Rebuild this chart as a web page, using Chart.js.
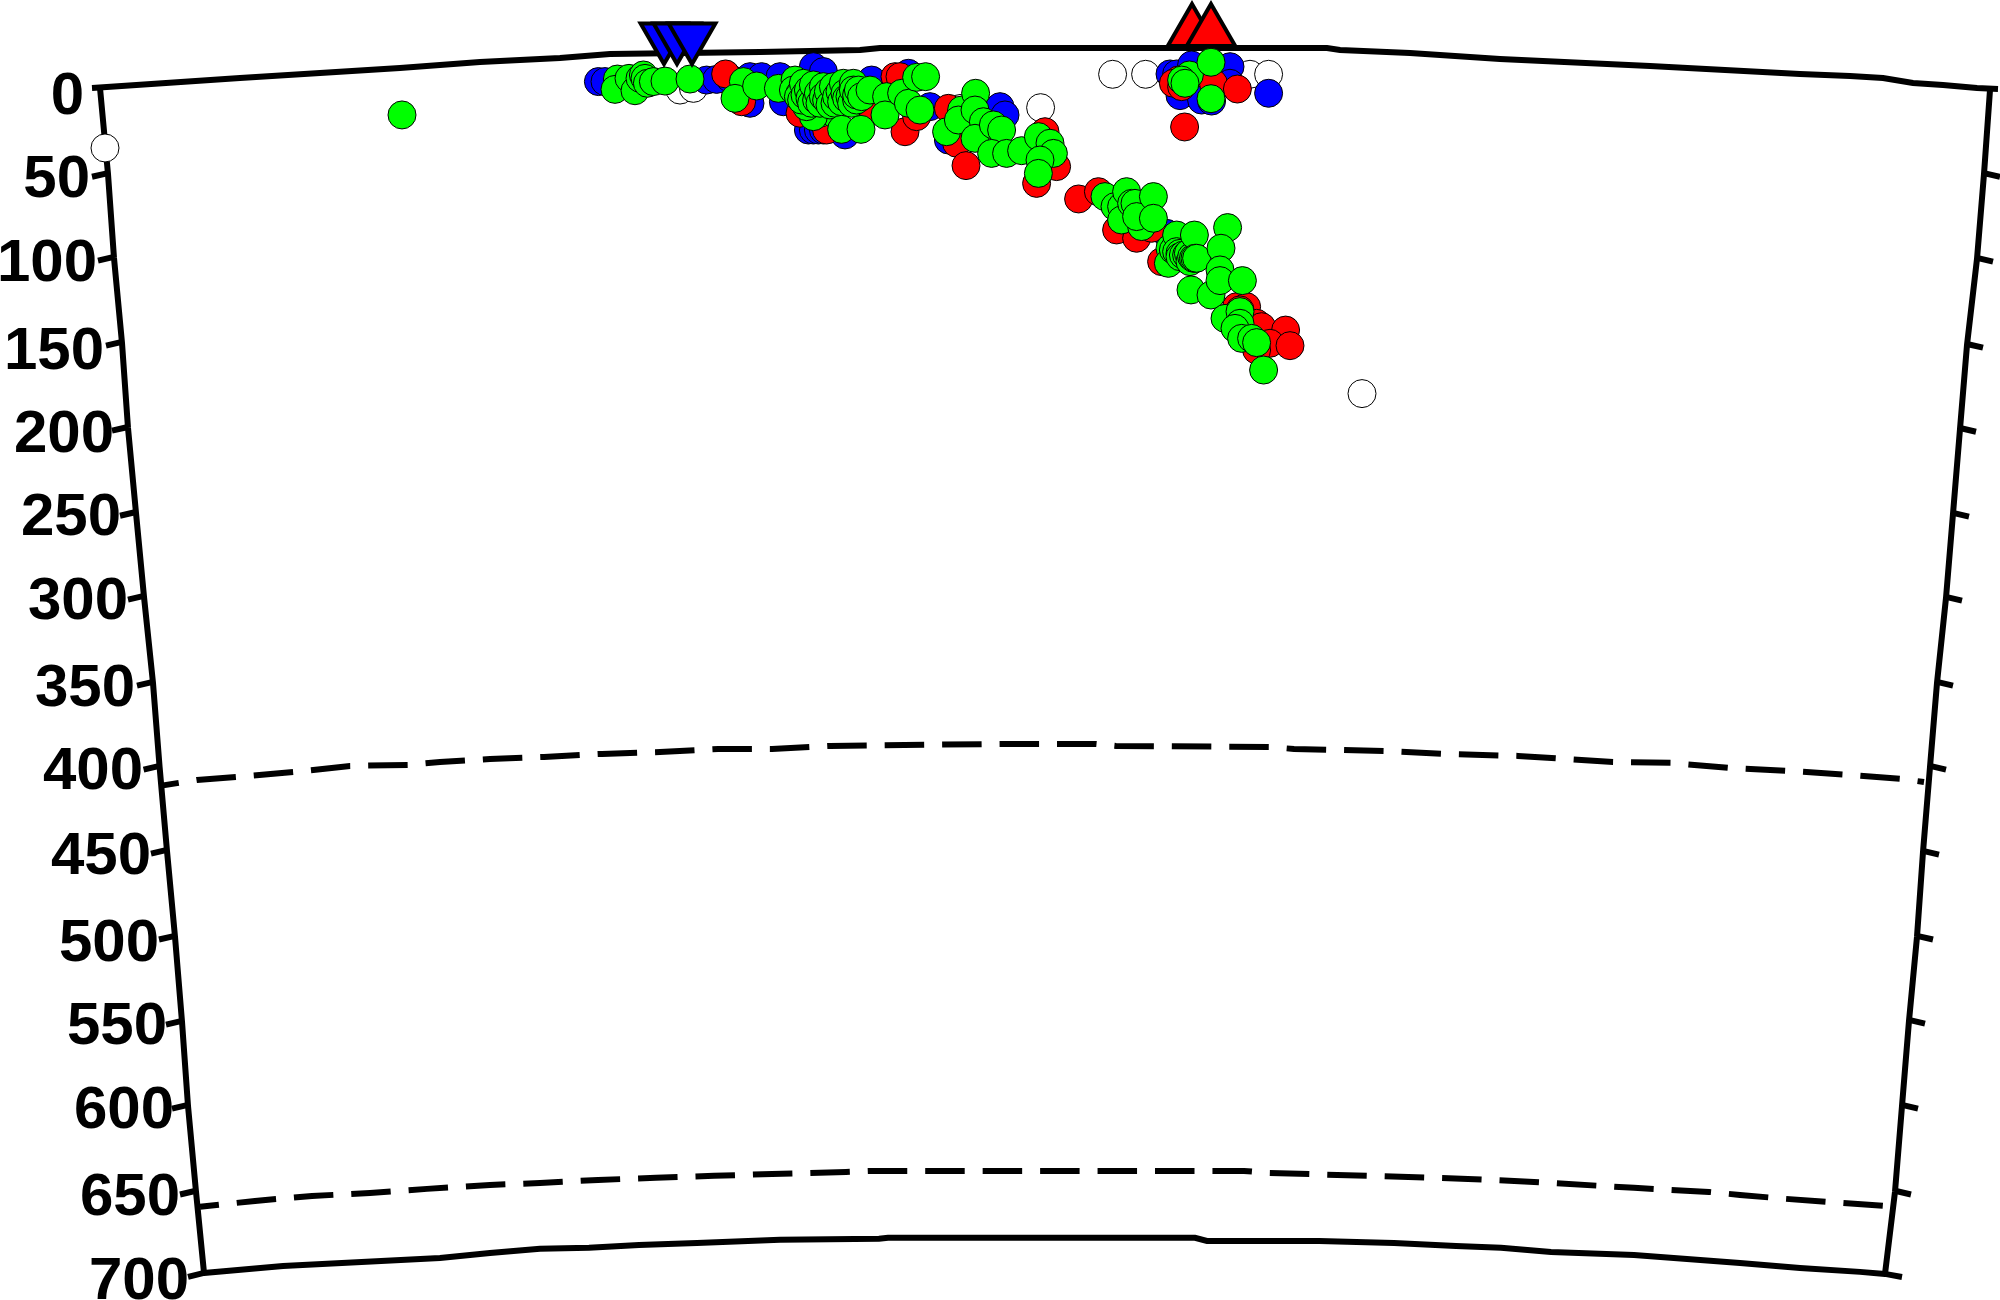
<!DOCTYPE html>
<html>
<head>
    <meta charset="UTF-8">
    <title>Seismicity cross section</title>
    <script src="https://cdn.jsdelivr.net/npm/chart.js"></script>
    <style>
        body {
            background-color: #FFFFFF;
            margin: 0;
            padding: 0;
        }

        canvas {
            display: block;
        }
    </style>
</head>
<body>
<canvas id="section-chart" width="2000" height="1300"></canvas>

<script>
    // Depth axis labels
    const depthLabels = ['0', '50', '100', '150', '200', '250', '300', '350', '400', '450', '500', '550', '600', '650', '700'];
    const labelX = [41, 44, 47.5, 51, 56, 59.5, 63, 66.5, 70.5, 74.5, 78.5, 82.5, 86, 89, 93.5];
    const labelDepth = [3, 52.5, 102.1, 153.5, 202.5, 251.5, 301.6, 353, 402, 452, 503, 552.5, 602.1, 653.5, 703];

    // Section frame: the sides and the earth surface / bottom are curved
    const leftEdgeX = [50, 54, 57, 61, 64, 68, 72, 76.5, 79.8, 83.5, 87.5, 91, 94, 98, 102];
    const leftEdgeDepth = [0.6, 51.4, 100.9, 151.1, 201.3, 251.5, 301, 351.8, 401.4, 451, 501.7, 551.9, 601.5, 652.2, 700];
    const rightEdgeX = [995, 992, 988.5, 983.5, 980, 976.5, 973, 968.5, 965, 961.5, 958.5, 954.5, 951, 947.5, 942.5];
    const rightEdgeDepth = [1.8, 51.4, 101.5, 152.3, 201.9, 252, 301.6, 351.8, 401.4, 451.6, 501.7, 551.3, 601.5, 652.2, 700.7];
    const topEdgeX = [46, 120, 200, 240, 280, 305, 380, 430, 440, 540, 663.5, 670, 705, 750, 825, 900, 925, 941.5, 956.5, 971.5, 988.5, 999];
    const topEdgeDepth = [0.6, -5.3, -11.2, -14.8, -17.1, -19.5, -20.7, -21.8, -23, -23, -23, -21.8, -20, -16.5, -12.4, -7.7, -6.5, -5.3, -2.4, -1.2, 0.6, 1.2];
    const bottomEdgeX = [94, 102, 141.5, 220, 245, 270, 294.5, 319.5, 348.5, 390, 439.5, 444, 597.5, 603.5, 659.5, 697, 728, 750.5, 775.5, 817, 870, 900, 930, 942.5, 951];
    const bottomEdgeDepth = [702.5, 700.1, 696, 691.3, 688.3, 685.9, 685.3, 683.6, 682.4, 680.6, 680, 679.4, 679.4, 681.2, 681.2, 682.4, 684.2, 685.3, 687.7, 689.5, 694.2, 697.2, 699.5, 700.7, 702.5];

    // 410 km and 660 km discontinuities
    const d410X = [80, 98.5, 118.5, 147, 175, 204, 220, 245, 272, 301, 330, 359, 386, 415, 502, 547.5, 558, 634.5, 647, 692.5, 721.5, 759, 806.5, 835.5, 864.5, 895, 925, 951, 962];
    const d410Depth = [412.6, 409.1, 407.3, 404.4, 400.8, 400.2, 398.5, 396.7, 395.5, 393.7, 392.6, 390.8, 390.8, 389, 387.8, 387.8, 389, 389.6, 390.8, 392, 393.7, 394.9, 398.5, 399, 402, 403.8, 406.1, 408.5, 410.3];
    const d660X = [100, 127.5, 156, 185, 213.5, 245, 270, 299, 328, 357, 386, 423, 435.5, 622, 634.5, 684.5, 734, 767, 817, 854.5, 870, 893, 921.5, 941.5];
    const d660Depth = [661.1, 657.6, 654.7, 652.9, 650.5, 648.2, 647, 645.2, 644, 642.8, 641.7, 640.5, 639.9, 639.9, 641.1, 642.8, 644.6, 646.4, 649.9, 652.3, 654.1, 656.4, 658.8, 660.5];

    // Stations on the surface
    const blueStationX = [332, 338.5, 346];
    const blueStationDepth = [-29.5, -29.5, -29.5];
    const redStationX = [596, 605.5];
    const redStationDepth = [-32.5, -32.5];

    // Earthquakes
    const whiteX = [52.5, 340, 346.7, 480, 520.3, 556.3, 572.8, 625, 634.3, 681];
    const whiteDepth = [36, 1.8, 0.8, 12.7, 12.2, -7.5, -7.5, -7.5, -7.5, 181];

    const blueX = [299.2, 302.5, 353.3, 358.3, 365, 375, 380.8, 390, 406.7, 411.7, 435.8, 375, 391.7, 404.2, 406.7, 409.2, 411.7, 422.5, 454.2, 465, 500, 502.5, 474.2, 585, 588.3, 595.8, 615, 615, 590, 600.8, 605.8, 634.3, 583.3];
    const blueDepth = [-3.2, -3.2, -4.1, -4.5, -5.1, -6.1, -6.1, -6.1, -12, -9.1, -4.1, 9.6, 8.7, 25.4, 25.4, 25.4, 25.4, 28.3, -8.1, 11.6, 11.6, 16.5, 31.3, -7.7, -7.7, -13, -12, -2.2, 5.1, 7.7, 8.3, 3.7, 86.4];

    const redX = [362.8, 370.8, 400, 413.3, 433.3, 447.5, 450, 452.5, 458.3, 474.2, 478.3, 483, 522.5, 528.3, 518.3, 589.2, 586.7, 606.7, 618.7, 592.3, 590.8, 539.3, 549.2, 558.3, 568.3, 575.8, 580.8, 618.3, 623.3, 620, 628.3, 630.8, 642.8, 635, 628.3, 645];
    const redDepth = [-7.7, 8.7, 15.5, 25.4, 15.5, -6.1, -6.1, 26.4, 17.5, 12.6, 33.2, 46.4, 26.4, 47, 56.9, -4.1, -2.2, -2.2, 1.2, 23.6, -0.2, 66.1, 61.8, 84.4, 89.3, 83.4, 103.1, 129.7, 129.7, 131.6, 139.5, 141.5, 143.5, 151.3, 155.3, 152.7];

    const greenX = [201, 308.7, 307.5, 314.5, 317.5, 320, 321.7, 322.5, 323.7, 326.7, 332.5, 345, 371.7, 367.5, 378.3, 389.2, 410, 416.7, 406.7, 403.3, 397.5, 396.7, 400, 399.2, 400.8, 401.7, 402.5, 404.2, 405, 405.8, 406.7, 408.3, 409.2, 410, 411.7, 411.7, 413.3, 414.2, 415, 416.7, 417.5, 418.3, 420, 420.8, 421.7, 422.5, 423.3, 425, 425.8, 426.7, 426.7, 428.3, 428.3, 429.2, 430.8, 435, 420.8, 430.5, 443.3, 450.8, 442.5, 454.2, 460, 458.3, 462.8, 473.3, 480.8, 479.2, 487.8, 487.5, 491.7, 487.5, 496.7, 500.8, 495.8, 503.3, 510.8, 519.2, 525, 526.7, 520, 519.2, 594.7, 590.8, 592.5, 605.5, 605.5, 552.5, 557.5, 560.8, 560.8, 570.8, 563.3, 565.8, 567.5, 568.3, 576.7, 576.7, 585, 585, 584.2, 586.7, 588.3, 588.3, 590, 590, 591.7, 593.3, 594.2, 595, 595.8, 596.7, 597.2, 597.5, 598.3, 613.8, 610.5, 595.5, 605.5, 610, 610, 621.2, 612.5, 620, 620, 617.5, 620.8, 625.8, 628.3, 631.8];
    const greenDepth = [16.5, -4.7, 1.4, -5.1, 2.2, -5.1, -7.1, -5.1, -2.2, -3.2, -3.5, -4.7, -3.2, 6.7, -0.6, 0.8, 15.5, 15.5, 17.5, 11.6, -4.1, 1.8, 3.7, 5.7, 7.7, -2.2, 4.7, 1.8, 6.7, 9.6, -1.2, 7.7, 3.7, 9.6, -0.2, 5.7, 7.7, 2.7, 10.6, -0.2, 9.6, 5.7, 2.7, 8.7, -2.2, 3.7, 6.7, 5.7, 9.6, -2.2, 1.8, 7.7, 4.7, 1.8, 5.7, 1.8, 25, 25, 5.7, 3.7, 16.5, 9.6, 13.6, -5.7, -6.1, 26.4, 13.6, 19.5, 3.7, 13.6, 20.5, 30.3, 22.4, 25.4, 39.2, 39.2, 37.6, 29.3, 33.2, 39.2, 43.1, 51, -7.1, -4.1, -2.2, -14.6, 6.9, 64.7, 70.6, 70.6, 78.5, 82.4, 61.8, 68.7, 68.7, 76.5, 64.7, 77.5, 95.2, 103.1, 104.1, 96.2, 87.4, 97.2, 98.2, 100.2, 99.2, 99.2, 98.2, 103.1, 100.2, 101.1, 87.4, 101.1, 101.1, 83, 95.2, 119.8, 122.8, 108, 114.3, 114.3, 136.6, 132.6, 139.5, 142.5, 148.4, 148.4, 150.9, 167.1];

    // Função auxiliar: junta x e y em pontos do Chart.js
    function toPoints(xs, ys) {
        return xs.map((x, i) => ({ x: x, y: ys[i] }));
    }

    // short tick marks, one segment each, split with NaN
    function tickPoints(xs, ys, side) {
        const points = [];
        for (let i = 1; i < xs.length - 1; i++) {
            points.push({ x: xs[i], y: ys[i] - 0.6 });
            points.push({ x: xs[i] + side * 8, y: ys[i] + 1.6 });
            points.push({ x: NaN, y: NaN });
        }
        return points;
    }

    function lineDataset(points, width, dash) {
        return {
            data: points,
            showLine: true,
            borderColor: '#000000',
            borderWidth: width,
            borderDash: dash || [],
            borderDashOffset: dash ? 20.5 : 0,
            borderCapStyle: 'butt',
            pointRadius: 0,
            spanGaps: false,
            clip: false
        };
    }

    function quakeDataset(points, color) {
        return {
            data: points,
            backgroundColor: color,
            borderColor: '#000000',
            borderWidth: 1,
            pointRadius: 14,
            pointHoverRadius: 14,
            clip: false
        };
    }

    function stationDataset(points, color, rotation, radius) {
        return {
            data: points,
            pointStyle: 'triangle',
            rotation: rotation,
            backgroundColor: color,
            borderColor: '#000000',
            borderWidth: 4,
            pointRadius: radius,
            clip: false
        };
    }

    // Plugin simples para as etiquetas de profundidade, que seguem o lado curvo
    const depthLabelPlugin = {
        id: 'depthLabels',
        afterDraw(chart) {
            const ctx = chart.ctx;
            const xScale = chart.scales.x;
            const yScale = chart.scales.y;
            ctx.save();
            ctx.fillStyle = '#000000';
            ctx.font = 'bold 60px "Liberation Sans", Arial, sans-serif';
            ctx.textAlign = 'right';
            ctx.textBaseline = 'alphabetic';
            depthLabels.forEach((label, i) => {
                ctx.fillText(label, xScale.getPixelForValue(labelX[i]) + 2, yScale.getPixelForValue(labelDepth[i]) + 21.5);
            });
            ctx.restore();
        }
    };

    const ctx = document.getElementById('section-chart').getContext('2d');
    new Chart(ctx, {
        type: 'scatter',
        data: {
            // the first dataset is painted last
            datasets: [
                stationDataset(toPoints(blueStationX, blueStationDepth), '#0000FF', 180, 27),
                stationDataset(toPoints(redStationX, redStationDepth), '#FF0000', 0, 28),
                quakeDataset(toPoints(greenX, greenDepth), '#00FF00'),
                quakeDataset(toPoints(redX, redDepth), '#FF0000'),
                quakeDataset(toPoints(blueX, blueDepth), '#0000FF'),
                quakeDataset(toPoints(whiteX, whiteDepth), '#FFFFFF'),
                lineDataset(toPoints(topEdgeX, topEdgeDepth), 6),
                lineDataset(toPoints(bottomEdgeX, bottomEdgeDepth), 6),
                lineDataset(toPoints(leftEdgeX, leftEdgeDepth), 6),
                lineDataset(toPoints(rightEdgeX, rightEdgeDepth), 6),
                lineDataset(tickPoints(leftEdgeX, leftEdgeDepth, -1), 6),
                lineDataset(tickPoints(rightEdgeX, rightEdgeDepth, 1), 6),
                lineDataset(toPoints(d410X, d410Depth), 6, [39.5, 17.95]),
                lineDataset(toPoints(d660X, d660Depth), 6, [39.5, 17.95])
            ]
        },
        options: {
            responsive: false,
            animation: false,
            devicePixelRatio: 1,
            layout: { padding: 0, autoPadding: false },
            events: [],
            plugins: {
                legend: { display: false },
                tooltip: { enabled: false },
                title: { display: false }
            },
            scales: {
                x: { type: 'linear', display: false, min: 0, max: 1000 },
                y: { type: 'linear', display: false, reverse: true, min: -51.36, max: 716.1 }
            }
        },
        plugins: [depthLabelPlugin]
    });
</script>
</body>
</html>
